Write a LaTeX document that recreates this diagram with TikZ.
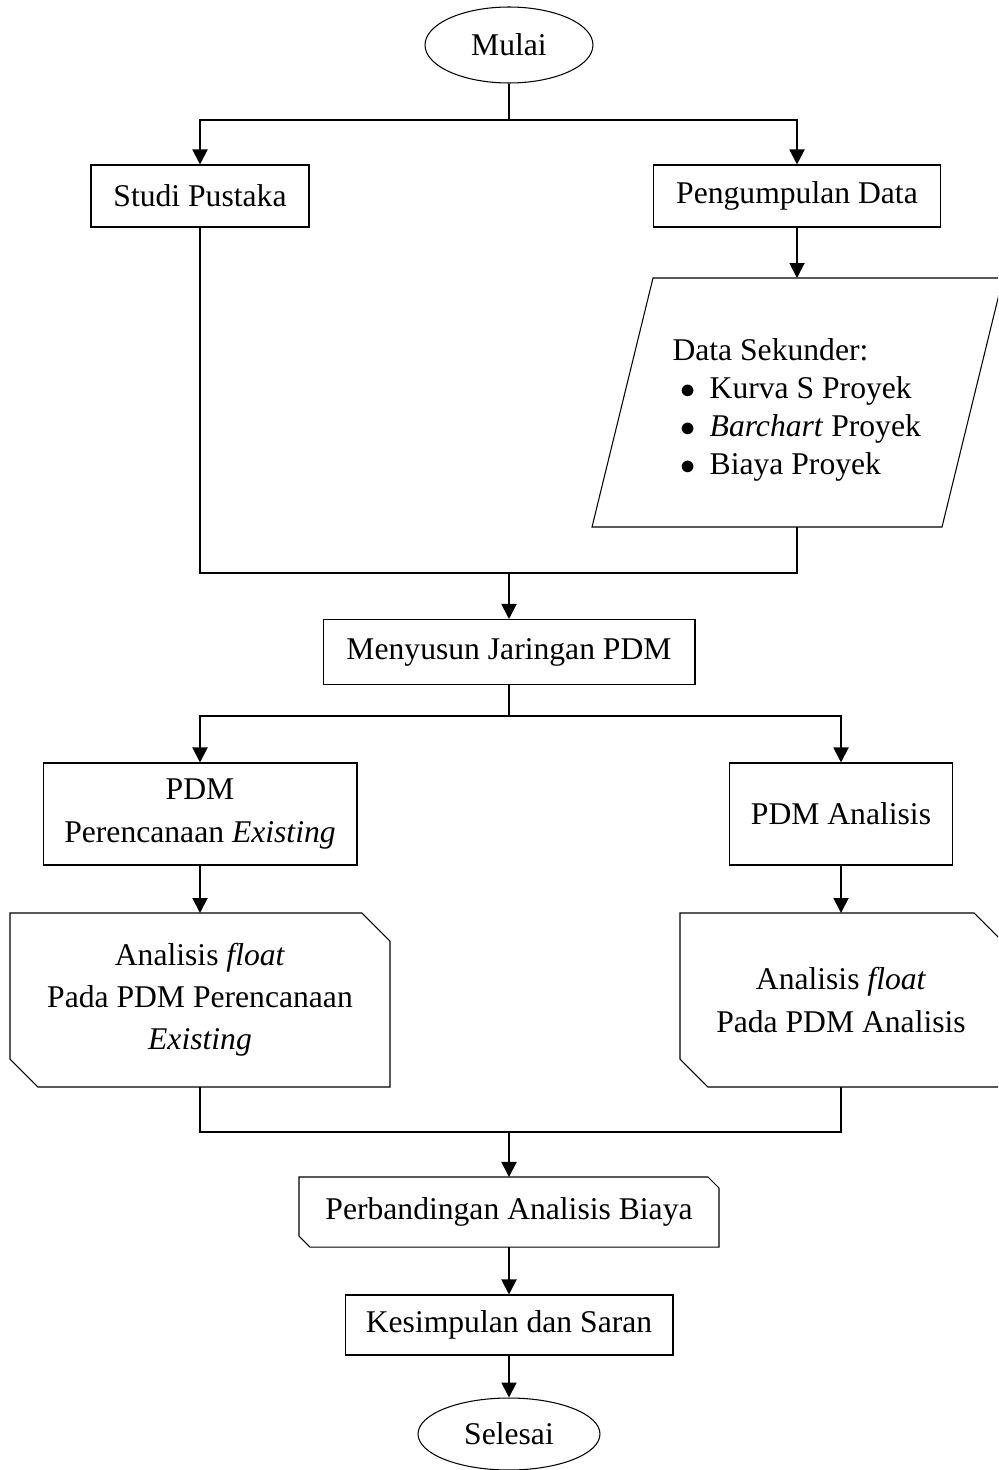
\documentclass[tikz,border=0pt]{standalone}
\usepackage{fontspec}
\setmainfont{Liberation Serif}
\usetikzlibrary{calc,arrows.meta,shapes.geometric}
\newcommand\cutbox[2]{\draw[boxline] (#1.north west) -- ($(#1.north east)+(-#2,0)$) -- ($(#1.north east)+(0,#2)$) -- (#1.south east) -- ($(#1.south west)+(#2,0)$) -- ($(#1.south west)+(0,-#2)$) -- cycle;}
\tikzset{
  boxline/.style={line width=0.6pt},
  proc/.style={draw, boxline, align=center, inner sep=0pt, font=\fontsize{18}{24}\selectfont},
  term/.style={proc, ellipse},
  plain/.style={proc, draw=none},
  link/.style={line width=1.1pt},
  arr/.style={link, -{Triangle[length=0.3cm,width=0.3cm]}}
}

\begin{document}
\begin{tikzpicture}[x=0.02cm, y=-0.02cm]
		\clip (0,0) rectangle (998,1470);
		%%%%% START %%%%%
		
		\node[term, minimum width=3.36cm, minimum height=1.52cm] (mulai) at (509,45) {Mulai};
		\node[proc, minimum width=4.36cm, minimum height=1.24cm] (studi) at (200,196) {Studi Pustaka};
		\node[proc, minimum width=5.74cm, minimum height=1.24cm] (kumpul) at (797,196) {Pengumpulan Data};
		
		% data sekunder
		\coordinate (dtop) at (797,278);
		\coordinate (dbot) at (797,527);
		\draw[boxline] (592,527) -- (653,278) -- (1003,278) -- (942,527) -- cycle;
		\node[plain, align=left, anchor=west, font=\fontsize{18}{21.6}\selectfont] (sekunder) at (672,410) {Data Sekunder:\\
			\hspace*{0.16cm}$\bullet$\hspace{0.28cm}Kurva S Proyek\\
			\hspace*{0.16cm}$\bullet$\hspace{0.28cm}\textit{Barchart} Proyek\\
			\hspace*{0.16cm}$\bullet$\hspace{0.28cm}Biaya Proyek};
		
		\node[proc, minimum width=7.44cm, minimum height=1.3cm] (susun) at (509,652) {Menyusun Jaringan PDM};
		\node[proc, minimum width=6.28cm, minimum height=2.04cm] (pdmx) at (200,814) {PDM\\Perencanaan \textit{Existing}};
		\node[proc, minimum width=4.46cm, minimum height=2.04cm] (pdma) at (841,814) {PDM Analisis};
		
		\node[plain, minimum width=7.58cm, minimum height=3.46cm] (floatx) at (200,1000) {Analisis \textit{float}\\Pada PDM Perencanaan\\\textit{Existing}};
		\cutbox{floatx}{28}
		\node[plain, minimum width=6.42cm, minimum height=3.46cm] (floata) at (841,1000) {Analisis \textit{float}\\Pada PDM Analisis};
		\cutbox{floata}{28}
		
		\node[plain, minimum width=8.38cm, minimum height=1.38cm] (banding) at (509,1212) {Perbandingan Analisis Biaya};
		\cutbox{banding}{11}
		\node[proc, minimum width=6.56cm, minimum height=1.2cm] (simpul) at (509,1325) {Kesimpulan dan Saran};
		\node[term, minimum width=3.64cm, minimum height=1.44cm] (selesai) at (509,1434) {Selesai};
		
		% connectors
		\coordinate (j1) at (509,120);
		\coordinate (j2) at (509,573);
		\coordinate (j3) at (509,716);
		\coordinate (j4) at (509,1132);
		
		\draw[link] (mulai) -- (j1);
		\draw[arr] (j1) -| (studi.north);
		\draw[arr] (j1) -| (kumpul.north);
		\draw[arr] (kumpul) -- (dtop);
		
		\draw[link] (studi.south) |- (j2);
		\draw[link] (dbot) |- (j2);
		\draw[arr] (j2) -- (susun);
		
		\draw[link] (susun) -- (j3);
		\draw[arr] (j3) -| (pdmx.north);
		\draw[arr] (j3) -| (pdma.north);
		\draw[arr] (pdmx) -- (floatx);
		\draw[arr] (pdma) -- (floata);
		
		\draw[link] (floatx.south) |- (j4);
		\draw[link] (floata.south) |- (j4);
		\draw[arr] (j4) -- (banding);
		\draw[arr] (banding) -- (simpul);
		\draw[arr] (simpul) -- (selesai);
		
		%%%%% END %%%%%
\end{tikzpicture}
\end{document}
